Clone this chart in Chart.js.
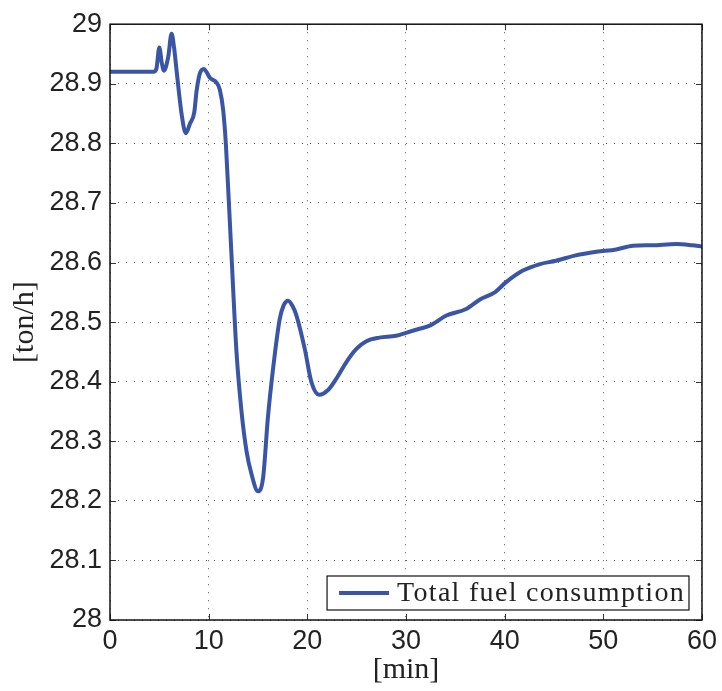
<!DOCTYPE html>
<html>
<head>
<meta charset="utf-8">
<script src="https://cdn.jsdelivr.net/npm/chart.js@4.4.1/dist/chart.umd.min.js"></script>
<style>
  html, body { margin: 0; padding: 0; background: #fff; }
  #wrap { width: 722px; height: 691px; }
</style>
</head>
<body>
<div id="wrap"><canvas id="c" width="722" height="691"></canvas></div>
<script>
// Time axis [min]
const timeMin = [
  0, 4.4, 4.7, 5.0, 5.25, 5.47, 5.9, 6.24, 6.5, 6.75, 7.25, 7.69, 8.1, 8.54, 8.77,
  9.1, 9.51, 9.85, 10.12, 10.8, 11.13, 11.47, 11.74, 12.05, 12.3, 12.82, 13.33,
  13.84, 14.34, 15.0, 15.52, 16.0, 16.53, 17.2, 17.6, 18.05, 18.5, 18.9, 19.74,
  20.4, 21.2, 22.1, 22.94, 23.96, 24.97, 25.98, 27.3, 29.0, 30.0, 31.2, 32.4,
  34.1, 36.1, 37.5, 39.0, 40.15, 41.8, 43.5, 45.2, 47.2, 49.3, 51.3, 53.0, 55.0,
  57.4, 59.0, 60
];
// Total fuel consumption [ton/h]
const fuelTonH = [
  28.92, 28.92, 28.925, 28.961, 28.935, 28.922, 28.945, 28.984, 28.96, 28.922,
  28.85, 28.817, 28.833, 28.852, 28.887, 28.917, 28.925, 28.918, 28.91, 28.902,
  28.89, 28.856, 28.80, 28.70, 28.617, 28.45, 28.35, 28.283, 28.245, 28.216,
  28.239, 28.339, 28.422, 28.505, 28.528, 28.536, 28.527, 28.511, 28.455, 28.40,
  28.378, 28.386, 28.405, 28.433, 28.455, 28.468, 28.474, 28.477, 28.482, 28.488,
  28.494, 28.511, 28.522, 28.538, 28.550, 28.567, 28.586, 28.597, 28.603, 28.612,
  28.618, 28.622, 28.628, 28.629, 28.631, 28.629, 28.627
];
const seriesLabel = 'Total fuel consumption';
const xTicks = [0, 10, 20, 30, 40, 50, 60];
const yTicks = [28, 28.1, 28.2, 28.3, 28.4, 28.5, 28.6, 28.7, 28.8, 28.9, 29];

const LINE_COLOR = '#3a55a5';
const SANS = '"Liberation Sans", Arial, Helvetica, sans-serif';
const SERIF = '"Liberation Serif", "DejaVu Serif", serif';

// Box frame with inward ticks on all four sides, plus an in-plot legend
const frameAndLegend = {
  id: 'frameAndLegend',
  afterDatasetsDraw(chart) {
    const { ctx, chartArea: a, scales } = chart;
    ctx.save();
    // inward ticks
    ctx.strokeStyle = '#333';
    ctx.lineWidth = 1;
    const tl = 6;
    ctx.beginPath();
    xTicks.forEach(v => {
      const x = Math.round(scales.x.getPixelForValue(v)) + 0.5;
      ctx.moveTo(x, a.bottom); ctx.lineTo(x, a.bottom - tl);
      ctx.moveTo(x, a.top); ctx.lineTo(x, a.top + tl);
    });
    yTicks.forEach(v => {
      const y = Math.round(scales.y.getPixelForValue(v)) + 0.5;
      ctx.moveTo(a.left, y); ctx.lineTo(a.left + tl, y);
      ctx.moveTo(a.right, y); ctx.lineTo(a.right - tl, y);
    });
    ctx.stroke();
    // frame
    ctx.strokeStyle = '#111';
    ctx.lineWidth = 1.5;
    ctx.strokeRect(a.left, a.top, a.right - a.left, a.bottom - a.top);

    // legend
    const ds = chart.data.datasets[0];
    ctx.font = '28px ' + SERIF;
    if ('letterSpacing' in ctx) ctx.letterSpacing = '1.3px';
    const tw = ctx.measureText(ds.label).width;
    const sample = 50, gap = 8, padL = 12, padR = 4, h = 34;
    const w = padL + sample + gap + tw + padR;
    const bx = a.right - 13 - w;
    const by = a.bottom - 10 - h;
    ctx.fillStyle = '#fff';
    ctx.fillRect(bx, by, w, h);
    ctx.strokeStyle = '#111';
    ctx.lineWidth = 1.2;
    ctx.strokeRect(bx, by, w, h);
    ctx.strokeStyle = ds.borderColor;
    ctx.lineWidth = ds.borderWidth;
    ctx.beginPath();
    ctx.moveTo(bx + padL, by + h / 2);
    ctx.lineTo(bx + padL + sample, by + h / 2);
    ctx.stroke();
    ctx.fillStyle = '#222';
    ctx.textBaseline = 'middle';
    ctx.textAlign = 'left';
    ctx.fillText(ds.label, bx + padL + sample + gap, by + h / 2 + 1);
    ctx.restore();
  }
};

new Chart(document.getElementById('c'), {
  type: 'line',
  data: {
    datasets: [{
      label: seriesLabel,
      data: timeMin.map((t, i) => ({ x: t, y: fuelTonH[i] })),
      borderColor: LINE_COLOR,
      backgroundColor: LINE_COLOR,
      borderWidth: 4,
      pointRadius: 0,
      cubicInterpolationMode: 'monotone',
      fill: false
    }]
  },
  options: {
    responsive: false,
    animation: false,
    events: [],
    layout: { padding: { top: 20, right: 19, left: 0, bottom: 0 } },
    plugins: { legend: { display: false }, tooltip: { enabled: false } },
    scales: {
      x: {
        type: 'linear',
        min: 0, max: 60,
        afterBuildTicks(scale) { scale.ticks = xTicks.map(v => ({ value: v })); },
        afterFit(scale) { scale.height = 71; },
        grid: { color: '#555', lineWidth: 1, drawTicks: false },
        border: { display: false, dash: [1, 7] },
        ticks: {
          padding: 5,
          color: '#222',
          font: { family: SANS, size: 27 },
          callback: v => String(v)
        },
        title: {
          display: true,
          text: '[min]',
          color: '#222',
          font: { family: SERIF, size: 30 },
          padding: { top: 0, bottom: 3 }
        }
      },
      y: {
        min: 28, max: 29,
        afterBuildTicks(scale) { scale.ticks = yTicks.map(v => ({ value: v })); },
        afterFit(scale) { scale.width = 110; },
        grid: { color: '#555', lineWidth: 1, drawTicks: false },
        border: { display: false, dash: [1, 7] },
        ticks: {
          padding: 8,
          color: '#222',
          font: { family: SANS, size: 27 },
          callback: v => String(Number(v.toFixed(1)))
        },
        title: {
          display: true,
          text: '[ton/h]',
          color: '#222',
          font: { family: SERIF, size: 30 },
          padding: { top: 7, bottom: 0 }
        }
      }
    }
  },
  plugins: [frameAndLegend]
});
</script>
</body>
</html>
